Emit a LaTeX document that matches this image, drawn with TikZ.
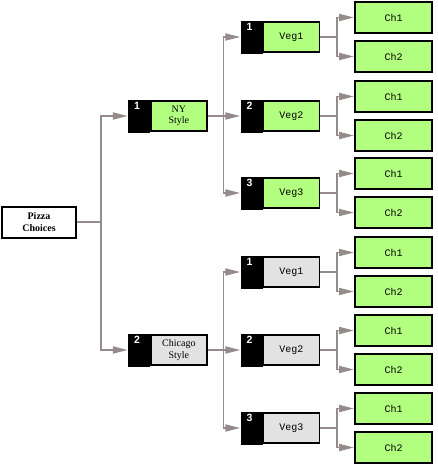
\documentclass[tikz,border=0pt]{standalone}
\usepackage{fontspec}
\setmainfont{Liberation Serif}
\newfontfamily\numfont{Liberation Sans}
\newfontfamily\tagfont{Liberation Mono}
\usetikzlibrary{arrows.meta,positioning}
\definecolor{leafgreen}{HTML}{B3FF80}
\definecolor{palegrey}{HTML}{E2E2E2}
\definecolor{linkgrey}{HTML}{958B8B}
\begin{document}
\begin{tikzpicture}[
        x=1pt, y=-1pt,
        box/.style={draw, line width=1.3pt, minimum height=30pt, inner sep=1pt, align=center, font=\fontsize{10}{11.5}\selectfont},
        tag/.style={fill=black, minimum width=22pt, minimum height=33pt, inner sep=0pt},
        num/.style={anchor=north west, inner sep=0pt, xshift=6pt, yshift=-2.5pt, text=white, font=\numfont\bfseries\fontsize{10.5}{10.5}\selectfont},
        lbl/.style={box, minimum width=56pt},
        leaf/.style={box, line width=2pt, fill=leafgreen, minimum width=77pt, minimum height=31pt, font=\tagfont\fontsize{10}{11}\selectfont},
        arr/.style={-{Triangle[length=15pt,width=7pt]}, linkgrey, line width=1.8pt}
    ]
    \useasboundingbox (0,0) rectangle (437,466);
    \node[box, line width=2pt, minimum width=74pt, minimum height=31pt, font=\bfseries\fontsize{10}{11.5}\selectfont] (pizza) at (39,222) {Pizza\\Choices};
    \node[tag, label={[num]north west:1}] (t1) at (139,116) {};
    \node[lbl, fill=leafgreen, right=0pt of t1] (ny) {NY\\Style};
    \node[tag, label={[num]north west:2}] (t2) at (139,350) {};
    \node[lbl, fill=palegrey, right=0pt of t2] (chi) {Chicago\\Style};
    \draw[arr] (pizza.east) -- ++(24,0) |- (t1.west);
    \draw[arr] (pizza.east) -- ++(24,0) |- (t2.west);
    % vegetables and leaves
    \foreach \i/\y/\c/\p in {1/37/leafgreen/ny, 2/116/leafgreen/ny, 3/193/leafgreen/ny,
                             1/272/palegrey/chi, 2/350/palegrey/chi, 3/428/palegrey/chi} {
        \node[tag, label={[num]north west:\i}] (v\y) at (251.5,\y) {};
        \node[lbl, fill=\c, right=0pt of v\y, font=\tagfont\fontsize{10}{11}\selectfont] (veg\y) {Veg\i};
        \draw[arr] (\p.east) -- ++(16,0) |- (v\y.west);
        \node[leaf] (a\y) at (393.5,\y-19.5) {Ch1};
        \node[leaf] (b\y) at (393.5,\y+19.5) {Ch2};
        \draw[arr] (veg\y.east) -- ++(17,0) |- (a\y.west);
        \draw[arr] (veg\y.east) -- ++(17,0) |- (b\y.west);
    }
\end{tikzpicture}
\end{document}
